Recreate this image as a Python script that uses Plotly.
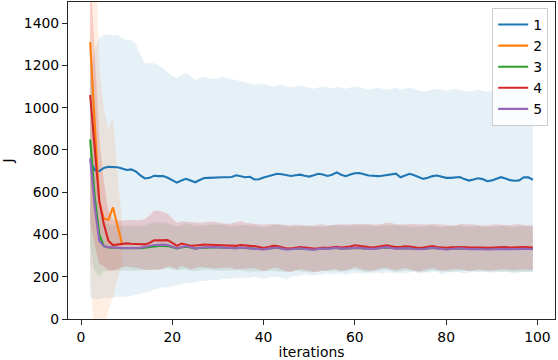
import plotly.graph_objects as go

# iterations 2..99
iterations = list(range(2, 100))

# series 1 (blue): mean line and band edges
mean_1 = [
    750, 705, 700, 715, 720, 720, 718, 712, 705, 708,
    698, 680, 665, 668, 678, 676, 676, 668, 655, 645,
    655, 663, 655, 647, 658, 667, 668, 670, 671, 671,
    671, 672, 680, 676, 671, 673, 660, 661, 670, 675,
    680, 687, 685, 680, 677, 680, 683, 678, 674, 680,
    687, 684, 677, 683, 694, 683, 676, 684, 690, 691,
    685, 679, 678, 676, 678, 682, 686, 688, 671, 680,
    687, 680, 670, 663, 668, 676, 679, 672, 668, 668,
    669, 672, 662, 655, 660, 666, 662, 652, 656, 665,
    671, 665, 657, 654, 656, 671, 670, 659,
]
upper_1 = [
    1150, 1280, 1330, 1345, 1345, 1340, 1345, 1330, 1320, 1320,
    1300, 1250, 1210, 1210, 1210, 1200, 1185, 1165, 1150, 1140,
    1155, 1165, 1150, 1130, 1140, 1145, 1140, 1135, 1140, 1145,
    1140, 1135, 1130, 1125, 1120, 1115, 1110, 1115, 1110, 1105,
    1100, 1105, 1110, 1100, 1095, 1100, 1105, 1100, 1095, 1090,
    1095, 1100, 1095, 1090, 1100, 1095, 1090, 1095, 1100, 1095,
    1090, 1085, 1090, 1095, 1090, 1085, 1090, 1095, 1085, 1090,
    1095, 1090, 1080, 1075, 1080, 1085, 1090, 1085, 1080, 1085,
    1090, 1085, 1080, 1075, 1080, 1085, 1080, 1075, 1080, 1085,
    1090, 1085, 1080, 1075, 1080, 1085, 1090, 1085,
]
lower_1 = [
    100, 95, 95, 100, 100, 100, 105, 105, 105, 110,
    115, 120, 125, 130, 140, 145, 150, 150, 155, 160,
    165, 170, 170, 175, 180, 180, 185, 185, 185, 190,
    190, 190, 195, 195, 195, 195, 200, 195, 190, 195,
    200, 200, 195, 185, 200, 205, 205, 210, 210, 205,
    210, 210, 215, 210, 215, 215, 210, 215, 220, 215,
    215, 220, 215, 220, 215, 220, 220, 215, 220, 215,
    220, 225, 215, 220, 220, 225, 225, 210, 220, 220,
    225, 220, 215, 220, 225, 220, 225, 220, 220, 225,
    220, 225, 220, 215, 220, 225, 220, 225,
]

# series 2 (orange) only runs to iteration 9
iterations_2 = [2, 3, 4, 5, 6, 7, 8, 9]
mean_2 = [1310, 900, 550, 475, 470, 528, 440, 355]
std_2 = [1100, 1000, 650, 520, 430, 426, 250, 100]

mean_3 = [
    850, 580, 400, 345, 338, 336, 336, 335, 335, 334,
    334, 335, 337, 340, 344, 346, 346, 345, 340, 334,
    338, 342, 338, 333, 336, 338, 339, 339, 338, 337,
    336, 335, 335, 337, 335, 334, 333, 331, 330, 333,
    335, 337, 333, 330, 331, 334, 334, 332, 330, 329,
    331, 333, 332, 335, 336, 333, 334, 335, 338, 336,
    334, 333, 332, 334, 337, 339, 336, 334, 334, 335,
    334, 331, 330, 331, 334, 336, 334, 331, 330, 331,
    333, 334, 333, 331, 331, 332, 331, 330, 331, 332,
    333, 332, 331, 331, 333, 332, 331, 331,
]
std_3 = [
    500, 350, 200, 120, 110, 108, 106, 105, 106, 108,
    107, 105, 106, 110, 112, 110, 108, 106, 105, 104,
    106, 108, 109, 107, 105, 104, 106, 109, 110, 108,
    106, 104, 105, 108, 110, 109, 107, 105, 104, 106,
    108, 110, 109, 107, 105, 104, 106, 108, 109, 107,
    105, 104, 106, 109, 110, 108, 106, 104, 105, 108,
    110, 109, 107, 105, 104, 106, 108, 110, 108, 106,
    105, 104, 106, 108, 109, 107, 105, 104, 106, 108,
    109, 107, 105, 104, 106, 108, 107, 105, 104, 106,
    108, 107, 105, 104, 106, 108, 107, 105,
]

mean_4 = [
    1060, 800, 560, 450, 370, 350, 352, 355, 358, 356,
    355, 354, 353, 360, 372, 372, 372, 373, 360, 346,
    357, 352, 346, 348, 351, 352, 351, 350, 349, 348,
    347, 347, 346, 350, 347, 346, 345, 340, 336, 340,
    346, 345, 340, 334, 333, 338, 341, 338, 335, 333,
    335, 338, 336, 340, 342, 338, 339, 343, 349, 345,
    341, 340, 338, 341, 345, 349, 344, 340, 341, 344,
    343, 339, 336, 338, 342, 345, 341, 338, 337, 339,
    340, 343, 341, 338, 339, 340, 338, 337, 338, 340,
    341, 340, 338, 339, 341, 340, 339, 338,
]
std_4 = [
    600, 450, 300, 200, 140, 120, 115, 110, 110, 110,
    112, 115, 120, 130, 140, 140, 135, 125, 115, 110,
    105, 108, 110, 107, 104, 106, 109, 111, 108, 105,
    103, 106, 110, 112, 109, 106, 104, 107, 110, 108,
    105, 103, 106, 109, 111, 108, 105, 104, 107, 110,
    112, 109, 106, 104, 107, 110, 108, 105, 103, 106,
    109, 111, 108, 105, 104, 107, 110, 108, 105, 103,
    106, 109, 111, 108, 105, 104, 107, 110, 108, 105,
    103, 106, 109, 110, 108, 105, 104, 107, 109, 108,
    105, 104, 106, 108, 107, 105, 104, 106,
]

mean_5 = [
    760, 530, 370, 345, 340, 338, 337, 336, 336, 335,
    336, 337, 340, 345, 350, 352, 352, 350, 343, 335,
    340, 345, 339, 333, 337, 340, 341, 340, 339, 338,
    337, 336, 335, 338, 336, 334, 333, 330, 329, 333,
    336, 338, 333, 329, 330, 334, 335, 332, 330, 328,
    331, 334, 332, 336, 337, 333, 334, 336, 339, 337,
    334, 333, 331, 334, 338, 340, 336, 333, 334, 336,
    335, 331, 329, 330, 334, 337, 334, 330, 329, 331,
    333, 335, 333, 330, 331, 332, 330, 329, 330, 332,
    333, 332, 330, 331, 333, 332, 331, 330,
]
std_5 = [
    500, 300, 150, 110, 106, 105, 107, 108, 106, 104,
    105, 107, 109, 112, 114, 112, 110, 107, 105, 104,
    106, 109, 110, 108, 106, 104, 105, 107, 110, 109,
    107, 105, 104, 106, 109, 110, 108, 106, 104, 105,
    107, 110, 109, 107, 105, 104, 106, 109, 110, 108,
    106, 104, 105, 107, 110, 109, 107, 105, 104, 106,
    109, 110, 108, 106, 104, 105, 107, 109, 108, 106,
    104, 105, 107, 109, 108, 106, 104, 105, 107, 108,
    107, 105, 104, 106, 108, 107, 105, 104, 106, 107,
    108, 106, 104, 105, 107, 108, 106, 105,
]

labels = ["1", "2", "3", "4", "5"]
colors = ["#1f77b4", "#ff7f0e", "#2ca02c", "#d62728", "#9467bd"]
fills = ["rgba(31,119,180,0.11)", "rgba(255,127,14,0.12)", "rgba(44,160,44,0.1)",
         "rgba(214,39,40,0.18)", "rgba(148,103,189,0.06)"]

bands = [
    (iterations, lower_1, upper_1),
    (iterations_2, [m - s for m, s in zip(mean_2, std_2)], [m + s for m, s in zip(mean_2, std_2)]),
    (iterations, [m - s for m, s in zip(mean_3, std_3)], [m + s for m, s in zip(mean_3, std_3)]),
    (iterations, [m - s for m, s in zip(mean_4, std_4)], [m + s for m, s in zip(mean_4, std_4)]),
    (iterations, [m - s for m, s in zip(mean_5, std_5)], [m + s for m, s in zip(mean_5, std_5)]),
]
lines = [
    (iterations, mean_1), (iterations_2, mean_2), (iterations, mean_3),
    (iterations, mean_4), (iterations, mean_5),
]

fig = go.Figure()

# shaded bands first, lines on top
for (xs, lo, hi), fc in zip(bands, fills):
    fig.add_trace(go.Scatter(
        x=xs + xs[::-1], y=hi + lo[::-1],
        fill="toself", fillcolor=fc, line=dict(width=0),
        mode="lines", showlegend=False, hoverinfo="skip",
    ))

for (xs, ys), name, c in zip(lines, labels, colors):
    fig.add_trace(go.Scatter(
        x=xs, y=ys, mode="lines", name=name,
        line=dict(color=c, width=2.1),
    ))

axis_style = dict(
    showline=True, mirror=True, linecolor="#262626", linewidth=1.1,
    ticks="outside", ticklen=5, tickwidth=1.1, tickcolor="#262626",
    showgrid=False, zeroline=False,
    tickfont=dict(family="DejaVu Sans", size=13.9, color="black"),
)

fig.update_xaxes(
    range=[-2.85, 103.85], tickvals=[0, 20, 40, 60, 80, 100],
    title=dict(text="iterations", standoff=3,
               font=dict(family="DejaVu Sans", size=13.9, color="black")),
    **axis_style,
)
fig.update_yaxes(
    range=[0, 1500], tickvals=[0, 200, 400, 600, 800, 1000, 1200, 1400],
    title=dict(text="J", standoff=8,
               font=dict(family="DejaVu Sans", size=13.9, color="black")),
    **axis_style,
)

fig.update_layout(
    width=558, height=360,
    margin=dict(l=68, r=3, t=2, b=41),
    plot_bgcolor="white", paper_bgcolor="white",
    font=dict(family="DejaVu Sans", size=13.9, color="black"),
    legend=dict(
        x=0.986, y=0.981, xanchor="right", yanchor="top",
        bgcolor="rgba(255,255,255,0.8)", bordercolor="#cccccc", borderwidth=1,
        font=dict(family="DejaVu Sans", size=13.9), itemwidth=30,
        tracegroupgap=0,
    ),
)

# the page's default body margin would shift the figure
fig.write_html("out.html", config={"displayModeBar": False},
               post_script="document.body.style.margin='0';")
